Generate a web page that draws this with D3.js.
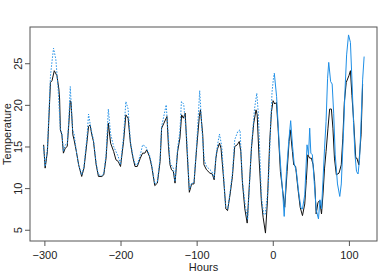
<!DOCTYPE html>
<html lang="en">
<head>
  <meta charset="UTF-8">
  <title>Temperature by hour</title>
  <script src="https://d3js.org/d3.v7.min.js"></script>
  <style>
    body { margin: 0; background: #fff; }
    svg { display: block; font-family: "Liberation Sans", Arial, sans-serif; }
  </style>
</head>
<body>
  <div id="chart"></div>
  <script>
    // observed temperature (black)
    const obsHours = [-301,-299,-296,-292,-290,-287,-283.5,-281,-280,-279,-277,-275,-272.6,-270,-268,-266,-265,-262.6,-261,-258,-255,-251,-248,-244,-242,-240,-237.7,-235.5,-232,-229,-224.5,-222,-219,-216,-213,-209,-206,-203,-200,-196,-193,-190,-187,-184,-181,-178,-174,-171,-168,-165.6,-162,-159,-155,-151.6,-148,-146,-143,-139,-137,-135,-133,-130.6,-128.4,-125,-122,-119.7,-117.5,-115,-113,-109.6,-106.6,-103.5,-102,-100,-96.5,-95,-92,-90.4,-87,-82.6,-79.5,-77,-74.7,-73,-70,-68,-65,-61.6,-59.4,-56,-53,-50,-46.7,-44,-42,-39.8,-36.7,-33.6,-31,-28,-25,-22,-20.5,-18,-15,-12.7,-9.6,-7,-4,-1.7,0.4,2.6,4.8,7,10,13.5,15.7,18.8,21.4,23,25.8,27.5,30,33,36,39,42,44,46,48.5,50.7,53,55,57,59.4,61.6,64,66,68,70,72.5,74.7,77,79,81,83.5,87,90,92,94,96.5,100,102,104,106,109,110.5,113,116,118];
    const obsTemp = [15.2,12.4,14.4,22.7,22.9,24.1,23.5,21.9,20.7,17,16.4,14.2,14.8,15,17.6,20.5,20.3,16.4,15.8,14.4,12.8,11.4,12.4,15.6,17.4,17.6,16.4,15.6,12.8,11.4,11.4,11.6,13.6,17.8,15.4,14.4,13.4,13.2,12.6,15.6,18.8,18.4,15.4,13.8,12.6,12.6,13.6,14.2,14.2,14.6,13.8,12.6,10.3,10.6,13.2,17.2,17.8,18.6,15,12.8,12.2,12,10.6,14.4,16,18.8,18.4,19,15.2,9.5,10.5,10.5,12.4,14.8,18.6,19.4,16.4,12.8,12.2,11.8,11.7,11,13.6,14.6,15.4,14.8,11.6,7.5,7.3,9.3,11.4,15,15.2,15.6,14.4,10.6,7.5,5.8,10,14.8,17.8,19.4,18.8,13.6,8.5,6.5,4.6,8.5,15.6,19.2,20.5,20.1,20.3,17.2,12,9.3,7.7,12,15.6,17,14.4,12.8,12.6,10,7.7,6.7,8.1,10.9,14,13.6,13.6,12.8,10.8,6.9,8.3,8.5,6.9,9.3,12.4,14.4,17.2,19.5,19.5,17.2,13.6,11.6,11.8,12.8,16,20.3,22.7,23.5,24.1,21.1,18.4,13.6,13.6,12.8,16.4,22.5];

    // fitted values (blue, dotted)
    const fitHours = [-301,-299,-296,-292,-290,-288,-285,-282,-279,-277,-275,-272.6,-270,-268,-266,-263,-261,-258,-255,-251,-248,-244,-242,-239,-235.5,-232,-229,-224.5,-222,-219,-216,-213,-209,-203,-200,-196,-193,-190,-187,-184,-181,-178,-174,-171,-167,-162,-159,-155,-151.6,-148,-146,-140,-137,-135,-130.6,-128.4,-125,-122,-120,-117,-113,-109.6,-106.6,-103.5,-100,-96,-93,-90,-87,-80,-77,-74.7,-72,-70,-67,-62,-59,-56,-53,-50,-46,-43,-40,-36,-33,-28,-24,-21,-19,-15,-12,-10,-6,-3,-1,1,2];
    const fitTemp = [15,12.6,14.8,23.5,25.2,26.8,25.5,22,17,16.6,14.4,15.2,15.3,18,22.2,17,16.5,14.4,12.8,11.6,12.6,16.2,18.9,17.2,15.8,13,11.6,11.5,11.8,14,19.5,16.5,15,13.8,12.8,16.2,20.4,19.5,15.6,14,12.9,12.8,14,15.2,15,14,12.8,10.5,10.8,13.6,17.4,20,16,13,12.4,10.8,14.8,16.8,20.4,20.1,16,9.8,10.6,10.7,15.2,21.7,17,13.4,12.6,12,11.2,13.8,15.5,16.5,15,7.8,7.5,9.6,11.8,15.8,16.8,17,11,7.8,6.2,15,19.5,21.4,19,9,6.9,6.8,10,17,21.5,23.3,23.8];

    // forecast (blue, solid)
    const fcHours = [2,5,8,10,13,15,18,21,23.5,26,28,31,34,37,39,42,45,47,48.5,50,52,55,57,60,62,64,66,68,70,72,73.5,76,78,80,82,85,88,90,93,95,97,99.5,102,104,106,108,110,112,114,116,118,120];
    const fcTemp = [23.8,21,16,13,9.5,6.6,12,15.6,18.1,15,13,12,9.5,7.6,7.5,9.2,15.2,14,17.2,14.2,14,10,7.4,6.3,8.6,7.5,11,14.8,18,23.2,25.1,22.8,22.5,19,14,10.5,9,10.5,17,22,26,28.4,27.5,23,18,14,12,11.7,13.5,18,23,25.8];

    const xTicks = [-300, -200, -100, 0, 100];
    const yTicks = [5, 10, 15, 20, 25];

    const width = 390, height = 276;
    const margin = { top: 27, right: 13, bottom: 35, left: 30 };
    const blue = "#1f8fe6";

    const svg = d3.select("#chart").append("svg")
      .attr("width", width).attr("height", height);

    const x = d3.scaleLinear().domain([-318.9, 136.9])
      .range([margin.left, width - margin.right]);
    const y = d3.scaleLinear().domain([3.65, 29.35])
      .range([height - margin.bottom, margin.top]);

    const line = d3.line().x(d => x(d[0])).y(d => y(d[1]));

    function series(hs, ts) { return hs.map((h, i) => [h, ts[i]]); }

    svg.append("path").datum(series(obsHours, obsTemp))
      .attr("fill", "none").attr("stroke", "#111").attr("stroke-width", 1)
      .attr("d", line);
    svg.append("path").datum(series(fitHours, fitTemp))
      .attr("fill", "none").attr("stroke", blue).attr("stroke-width", 1)
      .attr("stroke-dasharray", "1.5,1.5")
      .attr("d", line);
    svg.append("path").datum(series(fcHours, fcTemp))
      .attr("fill", "none").attr("stroke", blue).attr("stroke-width", 1)
      .attr("d", line);

    // box
    svg.append("rect")
      .attr("x", margin.left).attr("y", margin.top)
      .attr("width", width - margin.left - margin.right)
      .attr("height", height - margin.top - margin.bottom)
      .attr("fill", "none").attr("stroke", "#555").attr("stroke-width", 1);

    const xAxis = svg.append("g")
      .attr("transform", `translate(0,${height - margin.bottom})`)
      .call(d3.axisBottom(x).tickValues(xTicks).tickSize(5).tickPadding(5)
        .tickFormat(d => d < 0 ? "\u2212" + Math.abs(d) : d));
    xAxis.select(".domain").remove();
    xAxis.selectAll("line").attr("stroke", "#555");
    xAxis.selectAll("text").attr("font-size", 11).attr("fill", "#222")
      .attr("font-family", "Liberation Sans, Arial, sans-serif");

    const yAxis = svg.append("g")
      .attr("transform", `translate(${margin.left},0)`)
      .call(d3.axisLeft(y).tickValues(yTicks).tickSize(5).tickFormat(d3.format("d")));
    yAxis.select(".domain").remove();
    yAxis.selectAll("line").attr("stroke", "#555");
    yAxis.selectAll("text")
      .attr("font-size", 11).attr("fill", "#222")
      .attr("font-family", "Liberation Sans, Arial, sans-serif")
      .attr("text-anchor", "middle").attr("x", null)
      .attr("transform", "translate(-8,0) rotate(-90)")
      .attr("dy", "0em");

    svg.append("text")
      .attr("x", (margin.left + width - margin.right) / 2).attr("y", 271)
      .attr("text-anchor", "middle").attr("font-size", 11).attr("fill", "#222")
      .text("Hours");
    svg.append("text")
      .attr("transform", `translate(11,${(margin.top + height - margin.bottom) / 2}) rotate(-90)`)
      .attr("text-anchor", "middle").attr("font-size", 11).attr("fill", "#222")
      .text("Temperature");
  </script>
</body>
</html>
